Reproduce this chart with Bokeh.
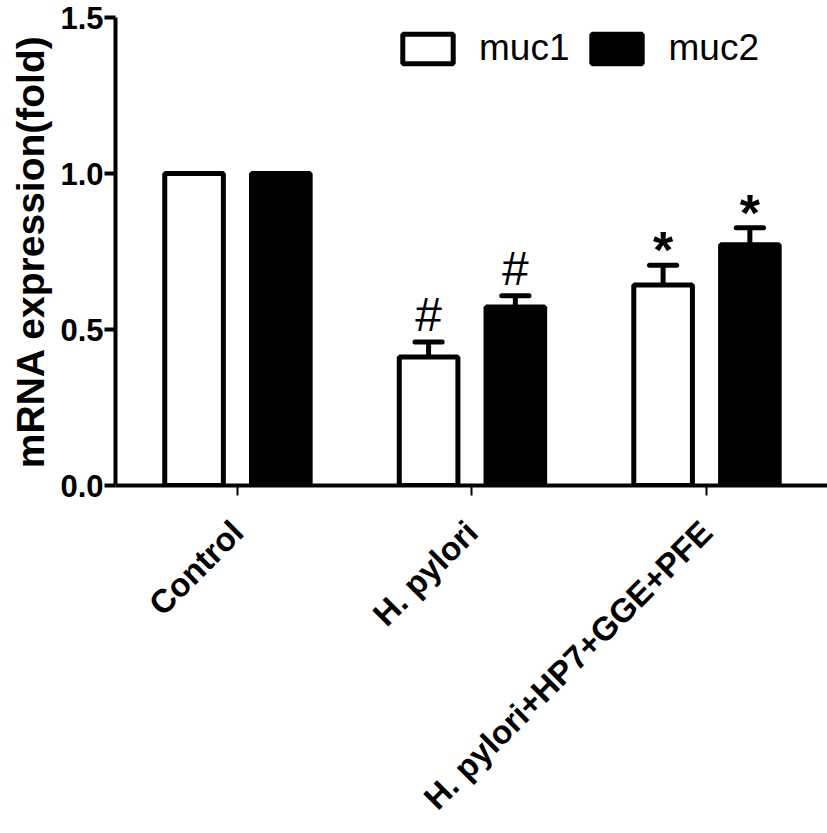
import math
from bokeh.plotting import figure
from bokeh.models import (ColumnDataSource, FixedTicker, Legend, LegendItem, Range1d,
                          PrintfTickFormatter, CDSView, GroupFilter)
from bokeh.core.properties import value
from bokeh.embed import file_html
from bokeh.resources import INLINE

groups = ["Control", "H. pylori", "H. pylori+HP7+GGE+PFE"]
muc1 = [1.0, 0.412, 0.643]
muc1_err = [0.0, 0.048, 0.063]
muc2 = [1.0, 0.572, 0.772]
muc2_err = [0.0, 0.036, 0.054]
muc1_marks = ["", "#", "*"]
muc2_marks = ["", "#", "*"]
y_ticks = [0.0, 0.5, 1.0, 1.5]

FONT = "Liberation Sans"
offset = 0.185
bar_w = 0.25
cap_half = 0.058

xs = list(range(len(groups)))
x1 = [x - offset for x in xs]
x2 = [x + offset for x in xs]

p = figure(width=827, height=833, output_backend="svg", toolbar_location=None,
           x_range=Range1d(-0.52, 2.516), y_range=Range1d(0, 1.5),
           min_border_left=115, min_border_right=0, min_border_top=17,
           min_border_bottom=348)
p.outline_line_color = None
p.xgrid.visible = False
p.ygrid.visible = False
p.background_fill_color = "white"
p.border_fill_color = "white"

s1 = ColumnDataSource(dict(x=x1, top=muc1, err_top=[v + e for v, e in zip(muc1, muc1_err)],
                           x0=[x - cap_half for x in x1], x1=[x + cap_half for x in x1],
                           mark=muc1_marks))
s2 = ColumnDataSource(dict(x=x2, top=muc2, err_top=[v + e for v, e in zip(muc2, muc2_err)],
                           x0=[x - cap_half for x in x2], x1=[x + cap_half for x in x2],
                           mark=muc2_marks))

for src in (s1, s2):
    p.segment(x0="x", y0="top", x1="x", y1="err_top", source=src, line_color="black", line_width=5)
    p.segment(x0="x0", y0="err_top", x1="x1", y1="err_top", source=src, line_color="black",
              line_width=5, line_cap="round")

r1 = p.vbar(x="x", top="top", width=bar_w, bottom=0, source=s1, fill_color="white",
            line_color="black", line_width=5)
r2 = p.vbar(x="x", top="top", width=bar_w, bottom=0, source=s2, fill_color="black",
            line_color="black", line_width=5)

for src in (s1, s2):
    p.text(x="x", y="err_top", text="mark", source=src,
           view=CDSView(filter=GroupFilter(column_name="mark", group="#")),
           text_align="center", text_baseline="alphabetic", y_offset=-27,
           text_font=value(FONT), text_font_size="48px", text_color="black")
    p.text(x="x", y="err_top", text="mark", source=src,
           view=CDSView(filter=GroupFilter(column_name="mark", group="*")),
           text_align="center", text_baseline="alphabetic", y_offset=-15,
           text_font=value(FONT), text_font_size="52px", text_font_style="bold",
           text_color="black")

# y axis
p.yaxis.ticker = FixedTicker(ticks=y_ticks)
p.yaxis.formatter = PrintfTickFormatter(format="%.1f")
p.yaxis.axis_label = "mRNA expression(fold)"
p.yaxis.axis_label_text_font = FONT
p.yaxis.axis_label_text_font_style = "bold"
p.yaxis.axis_label_text_font_size = "39px"
p.yaxis.axis_label_text_color = "black"
p.yaxis.axis_label_standoff = 5
p.yaxis.major_label_text_font = FONT
p.yaxis.major_label_text_font_style = "bold"
p.yaxis.major_label_text_font_size = "31px"
p.yaxis.major_label_text_color = "black"
p.yaxis.major_label_standoff = 1
p.yaxis.major_tick_in = 0
p.yaxis.major_tick_out = 11
p.yaxis.major_tick_line_width = 4
p.yaxis.minor_tick_line_color = None
p.yaxis.axis_line_width = 4

# x axis
p.xaxis.ticker = FixedTicker(ticks=xs)
p.xaxis.major_label_overrides = {i: g for i, g in enumerate(groups)}
p.xaxis.major_label_orientation = math.pi / 4
p.xaxis.major_label_text_font = FONT
p.xaxis.major_label_text_font_style = "bold"
p.xaxis.major_label_text_font_size = "33px"
p.xaxis.major_label_text_color = "black"
p.xaxis.major_label_standoff = 31
p.xaxis.major_tick_in = 0
p.xaxis.major_tick_out = 10
p.xaxis.major_tick_line_width = 2
p.xaxis.minor_tick_line_color = None
p.xaxis.axis_line_width = 4

legend = Legend(items=[LegendItem(label="muc1", renderers=[r1]),
                       LegendItem(label="muc2", renderers=[r2])],
                orientation="horizontal", location=(281, 416),
                glyph_width=63, glyph_height=37, label_standoff=20, spacing=16,
                padding=0, margin=0, border_line_color=None, background_fill_alpha=0,
                label_text_font=FONT, label_text_font_size="37px",
                label_text_color="black", label_text_baseline="middle")
p.add_layout(legend)

open("out.html", "w").write(file_html(p, INLINE))
